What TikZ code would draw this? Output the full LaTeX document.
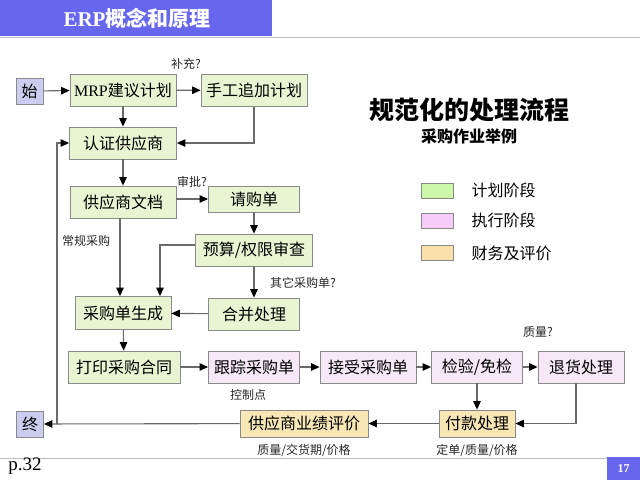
\documentclass[tikz,border=0pt]{standalone}
\usepackage{fontspec}
\setmainfont{Liberation Serif}
\newfontfamily\cjk{Noto Sans CJK SC}
\usetikzlibrary{arrows.meta}

\definecolor{planfill}{HTML}{E8F4D2}
\definecolor{execfill}{HTML}{F6E8F6}
\definecolor{finfill}{HTML}{F8E6B4}
\definecolor{endfill}{HTML}{CCCCF0}
\definecolor{legplan}{HTML}{CCF7A8}
\definecolor{legexec}{HTML}{F8CCF8}
\definecolor{legfin}{HTML}{FCE0AC}
\definecolor{boxline}{HTML}{8A8A8A}
\definecolor{linegray}{HTML}{6A6A6A}
\definecolor{headblue}{HTML}{6666EE}

\begin{document}
\begin{tikzpicture}[x=1pt,y=-1pt,
  box/.style={draw=boxline,line width=0.8pt,minimum height=32pt,inner sep=0pt,
    font=\cjk\fontsize{16}{16}\selectfont},
  plan/.style={box,fill=planfill},
  exec/.style={box,fill=execfill},
  fin/.style={box,fill=finfill,minimum height=27pt},
  term/.style={box,fill=endfill,minimum width=27pt,minimum height=26pt},
  flow/.style={draw=linegray,line width=1.1pt,-{Triangle[length=8.5pt,width=7.5pt,color=black]}},
  note/.style={font=\cjk\fontsize{12}{12}\selectfont,text=black!85}]
\useasboundingbox (0,0) rectangle (640,480);

% header and footer
\fill[headblue] (0,0) rectangle (272,36);
\draw[gray!50] (0,37) -- (640,37);
\node[text=white,font=\bfseries\fontsize{21}{21}\selectfont] (header) at (137,18) {ERP{\cjk\bfseries 概念和原理}};
\draw[gray!50] (0,458) -- (607,458);
\fill[headblue] (607,457) rectangle (640,480);
\node[text=white,font=\bfseries\fontsize{12}{12}\selectfont] (pagenum) at (623.5,468.5) {17};
\node[font=\fontsize{19}{19}\selectfont] (pageref) at (25,466) {p.32};

% title and legend
\node[font=\cjk\bfseries\fontsize{25}{25}\selectfont] (title) at (469,110) {规范化的处理流程};
\node[font=\cjk\bfseries\fontsize{16}{16}\selectfont] (subtitle) at (469,136) {采购作业举例};
\foreach \y/\c/\t in {190.5/legplan/计划阶段, 220.5/legexec/执行阶段, 253/legfin/财务及评价} {
  \node[draw=boxline,line width=0.8pt,fill=\c,minimum width=32pt,minimum height=15pt,inner sep=0pt] (key\c) at (437,\y) {};
  \node[anchor=west,font=\cjk\fontsize{16}{16}\selectfont] (text\c) at (468,\y) {\t};
}

% flow boxes
\node[term] (start) at (29.5,91) {始};
\node[plan,minimum width=106pt] (mrp) at (123,90) {{\rmfamily MRP}建议计划};
\node[plan,minimum width=106pt] (manual) at (254,90.5) {手工追加计划};
\node[plan,minimum width=107pt] (certify) at (123,143) {认证供应商};
\node[plan,minimum width=106pt] (vdoc) at (123,202) {供应商文档};
\node[plan,minimum width=91pt,minimum height=26pt] (requisition) at (254,199) {请购单};
\node[plan,minimum width=117pt] (budget) at (254,250) {预算/权限审查};
\node[plan,minimum width=96pt,minimum height=33pt] (pogen) at (123,313) {采购单生成};
\node[plan,minimum width=91pt] (merge) at (254,314) {合并处理};
\node[plan,minimum width=112pt] (print) at (124,367) {打印采购合同};
\node[exec,minimum width=91pt] (track) at (254,367) {跟踪采购单};
\node[exec,minimum width=96pt] (receive) at (368,367) {接受采购单};
\node[exec,minimum width=91pt] (inspect) at (477,367) {检验/免检};
\node[exec,minimum width=86pt] (return) at (581,367) {退货处理};
\node[fin,minimum width=76pt] (pay) at (477,423.5) {付款处理};
\node[fin,minimum width=128pt] (rating) at (304,423.5) {供应商业绩评价};
\node[term] (finish) at (30,424) {终};
\coordinate (loop) at (57,424);

% connectors
\draw[flow] (start) -- (mrp);
\draw[flow] (mrp) -- (manual);
\draw[flow] (mrp) -- (certify);
\draw[flow] (manual.south) |- (certify.east);
\draw[flow] (certify) -- (vdoc);
\draw[flow] (vdoc.east |- requisition) -- (requisition.west);
\draw[flow] (requisition) -- (budget);
\draw[flow] ([yshift=5pt]budget.west) -| ([xshift=37pt]pogen.north);
\draw[flow] ([xshift=-3pt]vdoc.south) -- ([xshift=-3pt]pogen.north);
\draw[flow] (budget) -- (merge);
\draw[flow] (merge) -- (pogen);
\draw[flow] (pogen) -- (print);
\draw[flow] (print) -- (track);
\draw[flow] (track) -- (receive);
\draw[flow] (receive) -- (inspect);
\draw[flow] (inspect) -- (return);
\draw[flow] (inspect) -- (pay);
\draw[flow] ([xshift=-5pt]return.south) |- (pay.east);
\draw[flow] (pay) -- (rating);
\draw[flow] (rating) -- (finish);
\draw[flow] (loop) |- (certify.west);

% labels
\node[note] (supplement) at (186,64) {补充?};
\node[note] (approve) at (192,182) {审批?};
\node[note] (regular) at (86,241) {常规采购};
\node[note] (otherpo) at (303,283) {其它采购单?};
\node[note] (checkpt) at (248,395) {控制点};
\node[note] (rateby) at (304,450) {质量/交货期/价格};
\node[note] (payby) at (477,450) {定单/质量/价格};
\node[note] (quality) at (538,332) {质量?};
\end{tikzpicture}
\end{document}
